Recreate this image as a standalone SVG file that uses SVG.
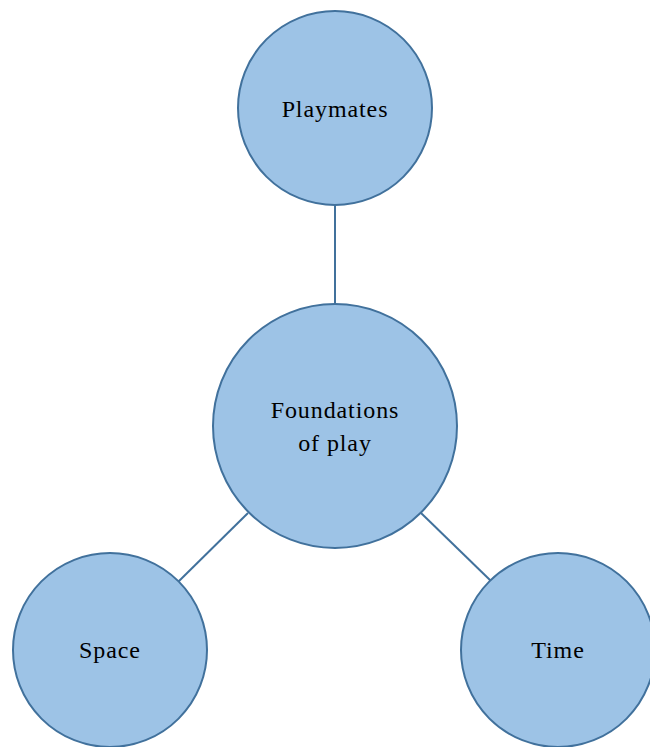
<svg xmlns="http://www.w3.org/2000/svg" width="650" height="747" viewBox="0 0 650 747">
<style>
.node{fill:#9dc3e6;stroke:#41719c;stroke-width:2}
.lbl{font-family:"Liberation Serif",serif;font-size:24px;letter-spacing:0.9px;fill:#000;text-anchor:middle}
.edge{stroke:#41719c;stroke-width:2;fill:none}
</style>
<rect width="650" height="747" fill="#fff"/>
<g id="connectors">
<line class="edge" x1="335" y1="205" x2="335" y2="304"/>
<line class="edge" x1="248" y1="513" x2="178" y2="582"/>
<line class="edge" x1="421" y1="513" x2="491" y2="581"/>
</g>
<g id="playmates">
<circle class="node" cx="335" cy="108" r="97"/>
<text class="lbl" x="335" y="117">Playmates</text>
</g>
<g id="foundations">
<circle class="node" cx="335" cy="426" r="122"/>
<text class="lbl" x="335" y="418">Foundations</text>
<text class="lbl" x="335" y="451">of play</text>
</g>
<g id="space">
<circle class="node" cx="110" cy="650" r="97"/>
<text class="lbl" x="110" y="658">Space</text>
</g>
<g id="time">
<circle class="node" cx="558" cy="650" r="97"/>
<text class="lbl" x="558" y="658">Time</text>
</g>
</svg>
